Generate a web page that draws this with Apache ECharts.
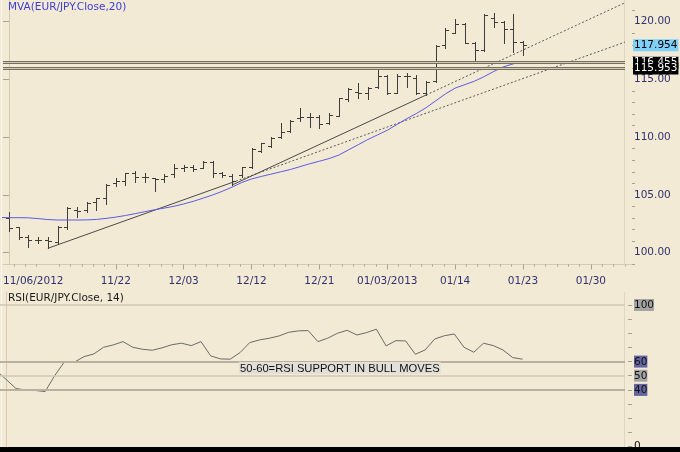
<!DOCTYPE html>
<html><head><meta charset="utf-8">
<script src="https://cdn.jsdelivr.net/npm/echarts@6/dist/echarts.min.js"></script>
<style>html,body{margin:0;padding:0;background:#f3ead6}#c{width:680px;height:452px}</style>
</head><body><div id="c"></div>
<script>
// ---------- DATA ----------
const barDates = ['11/07','11/08','11/09','11/12','11/13','11/14','11/15','11/16','11/19','11/20','11/21','11/22','11/23','11/26','11/27','11/28','11/29','11/30','12/03','12/04','12/05','12/06','12/07','12/10','12/11','12/12','12/13','12/14','12/17','12/18','12/19','12/20','12/21','12/24','12/26','12/27','12/28','12/31','01/02','01/03','01/04','01/07','01/08','01/09','01/10','01/11','01/14','01/15','01/16','01/17','01/18','01/21','01/22','01/23'];
const opens  = [103.03,102.20,101.33,101.10,101.10,100.96,102.20,103.70,103.70,104.42,104.71,106.01,106.24,106.87,106.53,106.44,106.35,106.81,107.30,107.39,107.30,107.88,106.87,106.60,106.73,107.39,108.83,109.24,109.99,110.57,111.63,111.78,111.72,111.20,111.84,113.28,113.94,113.80,114.32,115.30,113.86,115.30,115.10,113.86,114.87,117.98,119.05,119.80,118.18,117.55,120.29,120.00,119.40,118.27];
const highs  = [103.55,102.25,101.53,101.33,101.33,102.31,103.93,103.93,104.42,104.76,105.92,106.44,106.93,107.10,106.87,106.44,106.81,107.68,107.59,107.59,107.97,107.97,107.02,106.80,107.45,109.04,109.53,110.05,111.26,111.49,112.50,112.12,111.92,112.07,113.42,114.23,114.72,114.37,116.11,115.39,115.47,115.59,115.39,114.89,117.98,119.43,120.21,119.86,118.27,120.67,120.72,120.09,120.67,118.36];
const lows   = [101.91,101.16,100.46,100.87,100.38,100.81,102.02,103.12,103.55,103.70,104.22,105.78,105.86,106.15,106.15,105.37,106.15,106.58,107.10,107.10,107.30,106.58,106.58,105.86,106.58,107.30,108.69,109.12,109.90,110.48,111.43,110.91,110.77,111.14,111.84,113.16,113.37,113.28,114.23,113.74,113.80,114.37,113.74,113.65,114.81,117.69,118.99,118.13,116.54,117.49,119.51,118.18,117.41,117.12];
const closes = [102.11,101.33,101.10,101.10,101.04,102.20,103.84,103.64,104.33,104.71,105.86,106.24,106.87,106.58,106.53,106.35,106.64,107.30,107.39,107.25,107.88,106.87,106.73,106.20,107.39,108.95,109.47,109.90,110.48,111.43,111.78,111.72,111.14,111.92,113.37,114.14,113.80,114.23,115.30,113.86,115.30,115.30,113.86,114.81,117.93,119.28,119.80,118.18,117.55,120.58,120.00,119.34,118.27,117.954];
// 20-period moving average and RSI(14); first value belongs to the bar before 11/07 (11/06)
const maStartIndex = -1;
const maValues = [103.05,103.03,103.03,103.02,102.95,102.87,102.83,102.83,102.83,102.84,102.88,102.97,103.08,103.22,103.38,103.55,103.72,103.86,104.02,104.22,104.45,104.72,105.00,105.32,105.68,106.08,106.38,106.60,106.80,107.00,107.20,107.45,107.70,107.92,108.15,108.45,108.90,109.35,109.80,110.20,110.60,111.10,111.60,112.05,112.55,113.15,113.75,114.25,114.55,114.85,115.25,115.70,116.10,116.35,116.57];
const rsiStartIndex = -1;
const rsiValues = [53.6,47.4,41.0,39.9,39.6,38.8,50.2,60.0,59.6,63.5,65.4,70.1,71.8,74.1,70.1,68.7,68.0,69.7,71.9,73.0,71.3,74.1,64.0,61.9,61.7,66.3,73.4,75.3,76.5,78.1,80.7,81.7,81.9,74.1,76.5,80.0,82.1,78.8,80.5,82.9,71.1,74.8,74.6,65.2,68.2,76.0,78.3,79.5,70.1,66.6,73.0,71.3,68.2,62.8,61.7];
// axis ticks / labels
const xTickIndex  = [11,18,25,32,39,46,53,60];
const xTickLabels = ['11/22','12/03','12/12','12/21','01/03/2013','01/14','01/23','01/30'];
const xFirstLabel = '11/06/2012';
const priceTicks = [100,105,110,115,120];
const rsiTicks = [0,40,50,60,100];
const rsiLevels = [100,60,50,40];
// horizontal levels and last price
const hLevels = [116.455,115.953];
const lastPrice = 117.954;
// trendlines (bar index, price)
const trendA = [[4,100.38],[23,106.08]];
const trendB = [[23,105.86],[43,113.65]];
const annotText = '50-60=RSI SUPPORT IN BULL MOVES';

// ---------- CHART ----------
const xMin = -0.629, xMax = 63.52;
const pMin = 98.978, pMax = 121.879;
const rMin = 0, rMax = 109.17;
const FONT = 'DejaVu Sans';
const BG = '#f3ead6';
const AXC = '#d6cab2';
const TICKC = '#aaa08b';
const LABC = '#31316f';

const ohlcData = barDates.map((d, i) => [i, opens[i], highs[i], lows[i], closes[i]]);
const maData = maValues.map((v, k) => [k + maStartIndex, v]);
const rsiData = rsiValues.map((v, k) => [k + rsiStartIndex, v]);
function extendLine(t) {
  const s = (t[1][1] - t[0][1]) / (t[1][0] - t[0][0]);
  return [t[1], [xMax, t[1][1] + s * (xMax - t[1][0])]];
}
const minorX = [];
for (let a = xTickIndex[0] - 14; a < xMax; a += 7) {
  for (let j = 1; j < 6; j++) { const v = a + j * 7 / 6; if (v > xMin && v < xMax) minorX.push(v); }
}
const minorP = [];
for (let v = 99; v <= 121; v++) if (priceTicks.indexOf(v) < 0) minorP.push(v);
const rsiTickVals = [];
for (let v = 0; v <= 100; v += 10) rsiTickVals.push(v);

const chart = echarts.init(document.getElementById('c'), null, {renderer: 'canvas', width: 680, height: 452});
const r5 = v => Math.round(v) + 0.5;

const option = {
  backgroundColor: BG,
  animation: false,
  grid: [
    {left: 0, top: 0, width: 625, height: 264.5},
    {left: 0, top: 292, width: 625, height: 154.7}
  ],
  xAxis: [
    {gridIndex: 0, type: 'value', position: 'bottom', min: xMin, max: xMax,
      axisLine: {show: true, lineStyle: {color: AXC, width: 1}},
      axisTick: {show: true, customValues: xTickIndex, length: 5, lineStyle: {color: TICKC}},
      axisLabel: {show: true, customValues: [xMin].concat(xTickIndex), alignMinLabel: 'left', margin: 11,
        color: LABC, fontFamily: FONT, fontSize: 10.5,
        formatter: v => v === xMin ? xFirstLabel : (xTickLabels[xTickIndex.indexOf(v)] || '')},
      splitLine: {show: false}},
    // minor ticks: placed on the 'top' slot and shifted down onto the bottom axis line
    {gridIndex: 0, type: 'value', position: 'top', offset: -264.5, min: xMin, max: xMax,
      axisLine: {show: false}, axisLabel: {show: false}, splitLine: {show: false},
      axisTick: {show: true, inside: true, customValues: minorX, length: 2, lineStyle: {color: TICKC}}},
    {gridIndex: 1, type: 'value', position: 'bottom', min: xMin, max: xMax, show: false}
  ],
  yAxis: [
    {gridIndex: 0, type: 'value', position: 'right', offset: 7, min: pMin, max: pMax,
      axisLine: {show: true, lineStyle: {color: AXC}},
      axisTick: {show: true, inside: true, length: 6, customValues: priceTicks, lineStyle: {color: TICKC}},
      axisLabel: {show: true, customValues: priceTicks, margin: 2, color: LABC, fontFamily: FONT, fontSize: 10.5,
        formatter: v => v.toFixed(2)},
      splitLine: {show: false}},
    // minor ticks: placed on the 'left' slot and shifted right onto the right axis line
    {gridIndex: 0, type: 'value', position: 'left', offset: -632, min: pMin, max: pMax,
      axisLine: {show: false}, axisLabel: {show: false}, splitLine: {show: false},
      axisTick: {show: true, inside: false, length: 3, customValues: minorP, lineStyle: {color: TICKC}}},
    {gridIndex: 1, type: 'value', position: 'right', offset: 7, min: rMin, max: rMax,
      axisLine: {show: true, lineStyle: {color: AXC}},
      axisTick: {show: false},
      axisLabel: {show: true, customValues: rsiTicks, margin: 2, color: '#111', fontFamily: FONT, fontSize: 10.5,
        formatter: v => (v === 60 || v === 40) ? '{b|' + v + '}' : (v === 0 ? '{n|0}' : '{g|' + v + '}'),
        rich: {
          g: {backgroundColor: '#a4a4a4', color: '#111', fontFamily: FONT, fontSize: 10.5, padding: [1, 0, 0, 0]},
          b: {backgroundColor: '#64649f', color: '#111', fontFamily: FONT, fontSize: 10.5, padding: [1, 0, 0, 0]},
          n: {color: '#111', fontFamily: FONT, fontSize: 10.5}
        }},
      splitLine: {show: false}},
    {gridIndex: 1, type: 'value', position: 'left', offset: -632, min: rMin, max: rMax,
      axisLine: {show: false}, axisLabel: {show: false}, splitLine: {show: false},
      axisTick: {show: true, inside: false, length: 4, customValues: rsiTickVals, lineStyle: {color: TICKC}}}
  ],
  series: [
    {type: 'custom', name: 'EUR/JPY', xAxisIndex: 0, yAxisIndex: 0, data: ohlcData,
      encode: {x: 0, y: [1, 2, 3, 4]}, z: 3,
      renderItem: function (params, api) {
        const i = api.value(0);
        const ph = api.coord([i, api.value(2)]);
        const pl = api.coord([i, api.value(3)]);
        const po = api.coord([i, api.value(1)]);
        const pc = api.coord([i, api.value(4)]);
        const x = r5(ph[0]);
        const st = {stroke: '#3d3d3d', lineWidth: 1};
        return {type: 'group', children: [
          {type: 'line', shape: {x1: x, y1: Math.round(ph[1]), x2: x, y2: Math.round(pl[1]) + 1}, style: st},
          {type: 'line', shape: {x1: x - 3.5, y1: r5(po[1]), x2: x, y2: r5(po[1])}, style: st},
          {type: 'line', shape: {x1: x, y1: r5(pc[1]), x2: x + 3.5, y2: r5(pc[1])}, style: st}
        ]};
      }},
    {type: 'line', name: 'MVA', xAxisIndex: 0, yAxisIndex: 0, data: maData, showSymbol: false, symbol: 'none',
      lineStyle: {color: '#5b5be6', width: 1}, z: 4, silent: true,
      markLine: {silent: true, symbol: 'none', precision: 3, animation: false,
        lineStyle: {color: '#766e5f', width: 3, type: 'solid'},
        label: {show: true, position: 'end', distance: 8, formatter: '{b}', backgroundColor: '#000', color: '#fff',
          padding: [1, 1, 0, 1], fontFamily: FONT, fontSize: 10.5},
        data: hLevels.map(v => ({yAxis: v, name: v.toFixed(3)}))}},
    {type: 'line', name: 'lvl', xAxisIndex: 0, yAxisIndex: 0, data: [], z: 5, silent: true,
      markLine: {silent: true, symbol: 'none', precision: 3, animation: false,
        lineStyle: {color: '#d2c8b3', width: 1, type: 'solid'}, label: {show: false},
        data: hLevels.map(v => ({yAxis: v}))}},
    {type: 'line', name: 'last', xAxisIndex: 0, yAxisIndex: 0, data: [], z: 6, silent: true,
      markLine: {silent: true, symbol: 'none', precision: 3, animation: false,
        lineStyle: {color: 'rgba(0,0,0,0)', width: 0},
        label: {show: true, position: 'end', distance: 8, formatter: '{b}', backgroundColor: '#7fd0fb', color: '#000',
          padding: [1, 1, 0, 1], fontFamily: FONT, fontSize: 10.5},
        data: [{yAxis: lastPrice, name: lastPrice.toFixed(3)}]}},
    {type: 'line', name: 'trendA', xAxisIndex: 0, yAxisIndex: 0, data: trendA, symbol: 'none', z: 2,
      lineStyle: {color: '#4a4a48', width: 1}},
    {type: 'line', name: 'trendAext', xAxisIndex: 0, yAxisIndex: 0, data: extendLine(trendA), symbol: 'none', z: 2,
      lineStyle: {color: '#5a5a58', width: 1, type: [2, 2]}},
    {type: 'line', name: 'trendB', xAxisIndex: 0, yAxisIndex: 0, data: trendB, symbol: 'none', z: 2,
      lineStyle: {color: '#4a4a48', width: 1}},
    {type: 'line', name: 'trendBext', xAxisIndex: 0, yAxisIndex: 0, data: extendLine(trendB), symbol: 'none', z: 2,
      lineStyle: {color: '#5a5a58', width: 1, type: [2, 2]}},
    {type: 'line', name: 'RSI', xAxisIndex: 2, yAxisIndex: 2, data: rsiData, symbol: 'none', z: 4,
      lineStyle: {color: '#6a6a66', width: 1},
      markLine: {silent: true, symbol: 'none', animation: false, label: {show: false},
        data: rsiLevels.map(v => ({yAxis: v, lineStyle: {color: (v === 60 || v === 40) ? '#b9b09e' : '#d0c6b2', width: (v === 60 || v === 40) ? 2 : 1.5, type: 'solid'}}))}}
  ],
  graphic: [
    {type: 'line', shape: {x1: 624.5, y1: 0, x2: 624.5, y2: 264}, style: {stroke: '#e0d5bf', lineWidth: 1}, z: 1},
    {type: 'line', shape: {x1: 624.5, y1: 292, x2: 624.5, y2: 447}, style: {stroke: '#e0d5bf', lineWidth: 1}, z: 1},
    {type: 'line', shape: {x1: 625, y1: 264.5, x2: 632, y2: 264.5}, style: {stroke: AXC, lineWidth: 1}, z: 1},
    {type: 'line', shape: {x1: 1.5, y1: 0, x2: 1.5, y2: 447}, style: {stroke: '#fbf7ee', lineWidth: 1}, z: 1},
    {type: 'text', left: 8, top: 2, z: 10, style: {text: 'MVA(EUR/JPY.Close,20)', fill: '#3d3dd6', font: '10.5px "DejaVu Sans"'}},
    {type: 'text', left: 8, top: 293, z: 10, style: {text: 'RSI(EUR/JPY.Close, 14)', fill: '#1a1a1a', font: '10.5px "DejaVu Sans"'}},
    {type: 'text', left: 239, top: 362, z: 10, style: {text: annotText, fill: '#111', font: '11.2px "Liberation Sans"',
      backgroundColor: '#e2dfd8', padding: [1, 1, 0, 1]}},
    {type: 'rect', shape: {x: 0, y: 447, width: 680, height: 5}, style: {fill: '#000'}, z: 20}
  ]
};
chart.setOption(option);
</script>
</body></html>
